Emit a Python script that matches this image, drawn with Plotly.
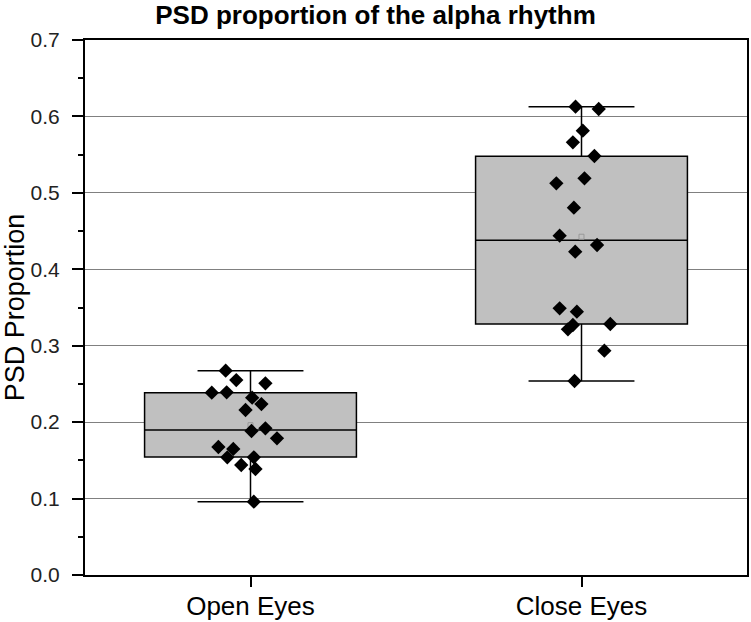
import plotly.graph_objects as go

# Box summary values
groups = ['Open Eyes', 'Close Eyes']
q1 = [0.1544, 0.3284]
median = [0.1897, 0.4379]
q3 = [0.2385, 0.5478]
lower_whisker = [0.0959, 0.2538]
upper_whisker = [0.2673, 0.6128]
mean = [0.1960, 0.4426]

# Individual points (value and horizontal jitter in category units)
open_values = [0.2673, 0.2551, 0.2508, 0.2385, 0.2390, 0.2320, 0.2237, 0.2159, 0.1884,
               0.1919, 0.1788, 0.1675, 0.1649, 0.1540, 0.1540, 0.1439, 0.1387, 0.0959]
open_jitter = [-0.075, -0.043, 0.045, -0.117, -0.072, 0.005, 0.033, -0.015, 0.003,
               0.045, 0.080, -0.097, -0.052, -0.070, 0.010, -0.028, 0.015, 0.010]
close_values = [0.6128, 0.6097, 0.5813, 0.5661, 0.5482, 0.5125, 0.5190, 0.4806, 0.4440,
                0.4318, 0.4230, 0.3489, 0.3445, 0.3284, 0.3271, 0.3214, 0.2935, 0.2538]
close_jitter = [-0.018, 0.052, 0.004, -0.026, 0.039, -0.076, 0.009, -0.023, -0.066,
                0.047, -0.019, -0.066, -0.014, 0.087, -0.026, -0.041, 0.069, -0.021]

yticks = [0.0, 0.1, 0.2, 0.3, 0.4, 0.5, 0.6, 0.7]

fig = go.Figure()

fig.add_trace(go.Box(x = [0, 1],
                     q1 = q1,
                     median = median,
                     q3 = q3,
                     lowerfence = lower_whisker,
                     upperfence = upper_whisker,
                     width = 0.64,
                     whiskerwidth = 0.5,
                     fillcolor = '#c0c0c0',
                     line = dict(color = 'black', width = 1.5),
                     boxpoints = False,
                     hoverinfo = 'skip'))

fig.add_trace(go.Scatter(x = [0, 1],
                         y = mean,
                         mode = 'markers',
                         marker = dict(symbol = 'square-open', size = 5, color = '#999999',
                                       line = dict(width = 1))))

for i, (vals, jit) in enumerate([(open_values, open_jitter), (close_values, close_jitter)]):
    fig.add_trace(go.Scatter(x = [i + j for j in jit],
                             y = vals,
                             mode = 'markers',
                             marker = dict(symbol = 'diamond', size = 11, color = 'black')))

fig.update_xaxes(range = [-0.5, 1.5],
                 tickvals = [0, 1],
                 ticktext = groups,
                 ticks = 'outside',
                 ticklen = 10,
                 tickwidth = 1.5,
                 tickcolor = 'black',
                 ticklabelstandoff = -3,
                 tickfont = dict(size = 26, color = 'black'),
                 showline = True,
                 linecolor = 'black',
                 linewidth = 2,
                 mirror = True,
                 showgrid = False,
                 zeroline = False,
                 automargin = False)

fig.update_yaxes(range = [0, 0.7],
                 tickvals = yticks,
                 tickformat = '.1f',
                 ticks = 'outside',
                 ticklen = 11,
                 tickwidth = 1.5,
                 tickcolor = 'black',
                 ticklabelstandoff = 8,
                 tickfont = dict(size = 21, color = '#222222'),
                 minor = dict(dtick = 0.05, ticks = 'outside', ticklen = 5, tickcolor = 'black', showgrid = False),
                 showline = True,
                 linecolor = 'black',
                 linewidth = 2,
                 mirror = True,
                 showgrid = True,
                 gridcolor = '#808080',
                 gridwidth = 1,
                 zeroline = False,
                 automargin = False,
                 title = dict(text = 'PSD Proportion', font = dict(size = 27, color = 'black'), standoff = 16))

fig.update_layout(plot_bgcolor = 'white',
                  paper_bgcolor = 'white',
                  width = 751,
                  height = 622,
                  margin = dict(l = 85, r = 4, t = 40, b = 47),
                  font = dict(family = 'Liberation Sans, Arial', color = 'black'),
                  title = dict(text = '<b>PSD proportion of the alpha rhythm</b>',
                               font = dict(size = 26, color = 'black'),
                               x = 0.5, xref = 'container', xanchor = 'center',
                               y = 0.976, yref = 'container', yanchor = 'middle'),
                  showlegend = False)

# the page body has a default 8px margin, drop it so the figure sits at the corner
fig.write_html("out.html",
               config = {'displayModeBar': False},
               post_script = "document.body.style.margin = '0';")
